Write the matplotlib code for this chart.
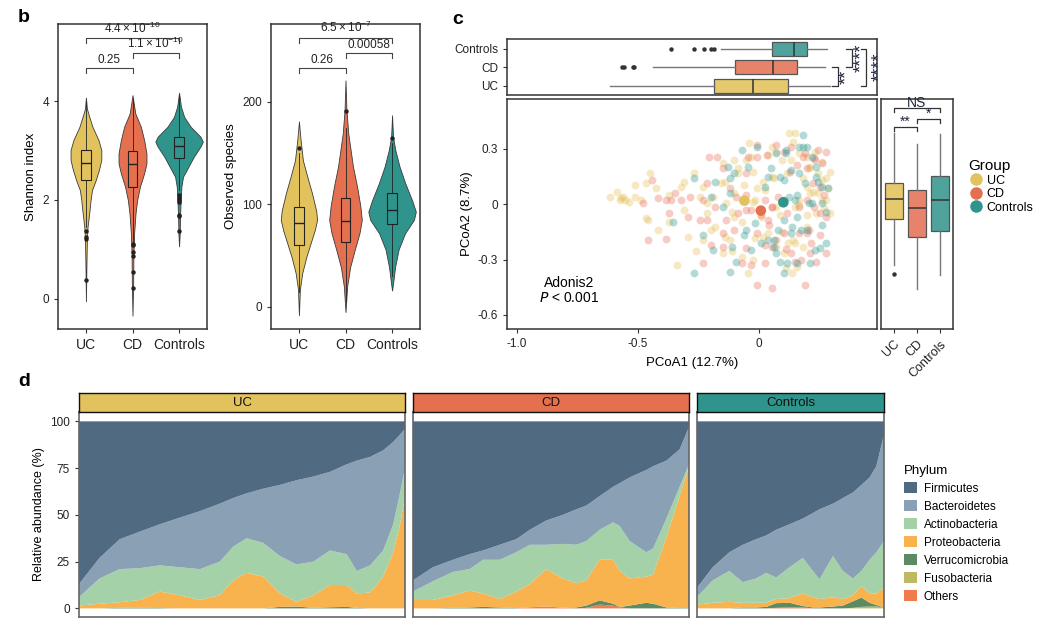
import matplotlib.pyplot as plt
import numpy as np
from matplotlib.patches import Patch
from matplotlib.lines import Line2D

plt.rcParams['font.family'] = ['Liberation Sans', 'DejaVu Sans']
plt.rcParams['mathtext.default'] = 'regular'

W, H = 1038, 628
groups = ['UC', 'CD', 'Controls']
col = {'UC': '#e2c25c', 'CD': '#e4704f', 'Controls': '#2f948c'}
box_col = {'UC': '#e6c86e', 'CD': '#e8836b', 'Controls': '#4fa39c'}
pt_col = {'UC': '#e6c15a', 'CD': '#e9735f', 'Controls': '#2f9a92'}

# ---- panel b : violin outlines (value, half width) ----
shannon_y = {
    'UC': [4.07, 3.85, 3.72, 3.48, 3.21, 3.01, 2.81, 2.61, 2.40, 2.20, 2.00, 1.73, 1.46, 1.19, 0.65, -0.05],
    'CD': [4.12, 3.75, 3.48, 3.21, 2.94, 2.74, 2.54, 2.27, 2.00, 1.73, 1.33, 0.92, 0.32, -0.34],
    'Controls': [4.17, 3.89, 3.68, 3.48, 3.28, 3.18, 3.08, 2.88, 2.67, 2.47, 2.27, 2.00, 1.66, 1.33, 1.06],
}
shannon_w = {
    'UC': [0, 0.02, 0.06, 0.14, 0.27, 0.33, 0.33, 0.28, 0.21, 0.13, 0.10, 0.07, 0.035, 0.02, 0.01, 0],
    'CD': [0, 0.06, 0.18, 0.25, 0.30, 0.30, 0.25, 0.16, 0.10, 0.065, 0.035, 0.02, 0.014, 0],
    'Controls': [0, 0.04, 0.11, 0.25, 0.46, 0.51, 0.46, 0.32, 0.20, 0.085, 0.05, 0.035, 0.02, 0.014, 0],
}
shannon_box = {'UC': (2.40, 2.75, 3.02, 1.45, 4.0),
               'CD': (2.26, 2.72, 3.00, 1.15, 4.05),
               'Controls': (2.84, 3.10, 3.27, 2.2, 4.1)}
shannon_out = {'UC': [1.38, 1.25, 1.22, 0.38],
               'CD': [1.10, 1.08, 0.94, 0.86, 0.55, 0.21],
               'Controls': [2.10, 2.05, 2.00, 1.95, 1.70, 1.67, 1.38]}

obs_y = {
    'UC': [181, 163, 143, 127, 111, 94, 85, 75, 62, 49, 33, 17, -8],
    'CD': [221, 192, 169, 153, 137, 117, 98, 85, 72, 56, 39, 20, -5],
    'Controls': [187, 166, 153, 137, 121, 104, 93, 85, 72, 56, 39, 26, 16],
}
obs_w = {
    'UC': [0, 0.035, 0.085, 0.18, 0.28, 0.37, 0.39, 0.34, 0.25, 0.16, 0.07, 0.02, 0],
    'CD': [0, 0.02, 0.06, 0.11, 0.16, 0.25, 0.32, 0.35, 0.30, 0.20, 0.10, 0.035, 0],
    'Controls': [0, 0.02, 0.07, 0.16, 0.28, 0.43, 0.51, 0.47, 0.28, 0.14, 0.065, 0.03, 0],
}
obs_box = {'UC': (60.5, 81.6, 97.2, 15, 150),
           'CD': (63, 84, 106, 5, 175),
           'Controls': (81, 94.6, 111, 30, 160)}
obs_out = {'UC': [155], 'CD': [191], 'Controls': [165]}

shannon_p = [('0.25', 1, 2, 4.67), (r'$1.1\times10^{-10}$', 2, 3, 4.98), (r'$4.4\times10^{-10}$', 1, 3, 5.28)]
obs_p = [('0.26', 1, 2, 232.8), ('0.00058', 2, 3, 247.5), (r'$6.5\times10^{-7}$', 1, 3, 262.8)]

# ---- panel c : PCoA ----
uc_x = [-0.615, -0.588, -0.568, -0.552, -0.536, -0.576, -0.560, -0.513, -0.489, -0.450, -0.513, -0.465,
        -0.426, -0.371, -0.323, -0.308, -0.457, -0.465, -0.418, -0.371, -0.339, -0.292, -0.260, -0.268,
        -0.229, -0.213, -0.189, -0.150, -0.142, -0.103, -0.087, -0.063, -0.055, -0.039, -0.032, -0.024,
        -0.008, 0.016, 0.055, 0.039, 0.071, 0.095, 0.118, 0.134, 0.166, 0.197, 0.213, 0.244, 0.260, 0.284,
        0.292, 0.123, 0.150, 0.055, -0.016, 0.008, -0.103, -0.181, -0.118, -0.071, -0.024, -0.047, 0.103,
        0.158, 0.197, 0.237, 0.260, 0.213, 0.166, 0.071, 0.039, -0.213, -0.229, -0.150, -0.197, -0.308,
        -0.244, -0.134, -0.103, 0.142, 0.181, 0.071, 0.150, 0.197, 0.244, 0.276, 0.292,
        0.142, -0.087, -0.158, -0.111, -0.142, -0.111, -0.016, 0.016, 0.095, 0.119, 0.150, 0.111, 0.135,
        0.182, 0.206, 0.230, 0.261, 0.277, 0.222, 0.269, 0.063, 0.024, -0.024, -0.071, 0.087, 0.166, 0.198]
uc_y = [0.042, 0.069, 0.033, 0.024, 0.014, 0.024, 0.042, 0.042, 0.024, 0.168, 0.105, 0.114,
        0.087, 0.051, 0.096, 0.123, -0.085, -0.076, -0.139, -0.094, -0.329, -0.179, -0.253, 0.168,
        0.096, 0.005, 0.042, 0.222, 0.123, 0.241, 0.168, 0.105, 0.241, 0.331, 0.259, 0.177,
        0.087, 0.123, 0.150, 0.268, 0.286, 0.241, 0.168, 0.241, 0.277, 0.259, 0.204, 0.168, 0.132, 0.087,
        0.177, 0.385, 0.385, 0.313, 0.024, -0.067, -0.067, -0.121, -0.193, -0.284, -0.302, -0.374, -0.266,
        -0.338, -0.121, -0.049, 0.024, 0.060, 0.024, -0.013, -0.157, -0.049, -0.193, -0.266, -0.139, -0.031,
        0.042, 0.005, 0.060, -0.193, -0.230, -0.230, -0.013, 0.096, 0.060, 0.024, -0.049,
        0.336, 0.195, 0.114, -0.040, -0.175, -0.253, -0.184, -0.175, -0.148, -0.212, -0.212, -0.347, -0.374,
        0.141, 0.195, 0.285, 0.231, 0.141, 0.069, -0.022, 0.141, 0.078, 0.014, -0.094, -0.058, -0.004, -0.058]
cd_x = [-0.481, -0.442, -0.415, -0.386, -0.363, -0.347, -0.323, -0.284, -0.457, -0.386, -0.229, -0.205,
        -0.174, -0.150, -0.118, -0.095, -0.055, -0.008, 0.032, 0.071, 0.103, 0.134, 0.181, 0.229, 0.260,
        0.252, 0.197, 0.166, 0.118, 0.055, 0.024, -0.055, -0.087, -0.134, -0.213, -0.229, -0.181, -0.150,
        -0.197, -0.055, -0.032, 0.024, 0.055, 0.071, 0.103, 0.134, 0.174, 0.213, 0.197, -0.008, 0.055,
        -0.150, -0.292, -0.371, -0.103, -0.008, 0.039, 0.229, 0.252, 0.166, 0.103, 0.244, -0.213, -0.244,
        -0.047, -0.008, -0.055, -0.031, 0.008, 0.040, 0.055, 0.079, 0.127, 0.158, 0.190, 0.230, 0.277,
        0.198, 0.222, 0.269, 0.277, 0.214, 0.253, 0.277, 0.237, 0.150, 0.190, -0.071, 0.024, 0.111, 0.206]
cd_y = [0.005, 0.132, 0.033, 0.024, 0.024, 0.060, 0.024, 0.042, -0.193, -0.190, -0.320, 0.259,
        0.259, 0.195, 0.087, 0.042, 0.168, 0.322, 0.268, 0.322, 0.286, 0.313, 0.259, 0.250, 0.222,
        0.096, 0.024, -0.013, -0.049, -0.013, 0.024, -0.031, -0.049, -0.085, -0.085, 0.024, -0.013, -0.230,
        -0.221, -0.239, -0.329, -0.320, -0.230, -0.193, -0.157, -0.266, -0.302, -0.266, -0.157, -0.438, -0.456,
        -0.157, -0.067, -0.049, -0.139, -0.157, -0.085, -0.013, -0.049, -0.157, 0.024, 0.295, 0.114, -0.085,
        0.258, 0.258, 0.051, -0.031, -0.058, -0.112, -0.013, 0.042, 0.177, 0.213, 0.276, 0.240, 0.285,
        0.195, 0.114, 0.051, -0.067, -0.212, -0.166, -0.266, -0.311, -0.311, -0.438, -0.320, -0.221, -0.242, -0.139]
ctrl_x = [-0.355, -0.268, -0.268, -0.229, -0.197, -0.189, -0.181, -0.126, -0.110, -0.095, -0.071, -0.047,
          -0.008, 0.024, 0.039, 0.071, 0.110, 0.126, 0.134, 0.166, 0.181, 0.197, 0.221, 0.237, 0.237, 0.260,
          0.284, 0.205, 0.150, 0.158, 0.174, 0.197, 0.252, 0.213, 0.158, 0.118, 0.103, 0.071, 0.039, 0.063,
          0.079, 0.103, 0.134, -0.016, -0.055, -0.118, -0.150, -0.103, 0.008, 0.189, 0.103, 0.166, 0.221, 0.260,
          -0.119, 0.111, 0.182, 0.048, 0.087, 0.158, 0.135, -0.063, -0.031, 0.063, 0.087, -0.119, 0.230,
          0.277, 0.261, 0.277, 0.245]
ctrl_y = [-0.094, 0.141, -0.374, -0.166, 0.042, -0.248, 0.123, 0.204, -0.230, -0.311, 0.295, 0.204,
          0.313, 0.096, 0.150, 0.277, 0.277, 0.042, 0.186, 0.313, 0.376, 0.313, 0.259, 0.204, 0.150, 0.096,
          0.087, 0.005, 0.024, -0.067, -0.139, -0.139, -0.239, -0.320, -0.320, -0.320, -0.374, -0.266, -0.193,
          -0.193, -0.139, -0.085, -0.157, -0.103, -0.139, 0.060, -0.013, 0.168, -0.212, 0.114, 0.132, 0.168,
          0.005, 0.005,
          0.144, 0.295, 0.312, 0.195, 0.150, 0.051, -0.121, -0.166, -0.248, -0.230, -0.311, -0.365, -0.248,
          -0.212, -0.112, -0.040, 0.123]
centroid_x = [-0.060, 0.008, 0.101]
centroid_y = [0.020, -0.034, 0.011]

# boxplot stats (q1, median, q3, whisker low, whisker high)
pc1_box = {'UC': (-0.187, -0.024, 0.122, -0.614, 0.292),
           'CD': (-0.098, 0.060, 0.157, -0.438, 0.272),
           'Controls': (0.056, 0.146, 0.198, -0.155, 0.283)}
pc1_out = {'UC': [], 'CD': [-0.566, -0.559, -0.522, -0.515],
           'Controls': [-0.365, -0.27, -0.227, -0.198, -0.186]}
pc2_box = {'UC': (-0.080, 0.030, 0.114, -0.33, 0.388),
           'CD': (-0.176, -0.022, 0.076, -0.458, 0.327),
           'Controls': (-0.143, 0.023, 0.155, -0.383, 0.380)}
pc2_out = {'UC': [-0.378], 'CD': [], 'Controls': []}

# ---- panel d : relative abundance (knots along sorted samples) ----
phyla = ['Firmicutes', 'Bacteroidetes', 'Actinobacteria', 'Proteobacteria',
         'Verrucomicrobia', 'Fusobacteria', 'Others']
phy_col = ['#506a82', '#8aa0b4', '#a5d1a9', '#f8b24e', '#5e8a63', '#bfba62', '#f07b4b']

uc_pos = [0, 0.063, 0.125, 0.186, 0.248, 0.309, 0.371, 0.432, 0.473, 0.514, 0.565,
          0.616, 0.667, 0.719, 0.770, 0.821, 0.852, 0.893, 0.933, 0.964, 0.985, 1.0]
uc_ab = {
    'Firmicutes': [87, 73, 63, 59, 55, 51.5, 48, 44, 41, 38.5, 36, 34, 31.5, 29.5, 27, 23, 21, 19, 15.5, 11, 7, 4],
    'Bacteroidetes': [7, 11, 16, 19.5, 22, 26.5, 31, 31, 26, 24, 29, 38, 45, 45.5, 42, 48, 59, 58, 53.5, 44, 31, 21],
    'Actinobacteria': [4.5, 13.5, 17.7, 17, 14, 15, 16.5, 18, 18, 18.5, 18, 20, 20, 18, 18.5, 16.5, 12, 14.5, 14, 15, 17, 15],
    'Proteobacteria': [1.5, 2.5, 3.0, 4.2, 8.8, 7, 4.5, 7, 15, 19, 17, 7.2, 2.5, 6.7, 11.9, 11.7, 7.7, 8.5, 17, 30, 45, 60],
    'Verrucomicrobia': [0, 0, 0.3, 0.3, 0.2, 0, 0, 0, 0, 0, 0, 0.8, 1.0, 0.3, 0.6, 0.8, 0.3, 0, 0, 0, 0, 0],
    'Fusobacteria': [0] * 22,
    'Others': [0] * 22,
}
cd_pos = [0, 0.072, 0.145, 0.205, 0.254, 0.314, 0.374, 0.423, 0.483, 0.543, 0.592,
          0.628, 0.676, 0.725, 0.749, 0.785, 0.845, 0.870, 0.918, 0.966, 1.0]
cd_ab = {
    'Firmicutes': [85, 78, 74, 71, 69, 66, 63, 58, 53, 50, 47, 45, 40, 35, 33, 30, 26, 24, 21, 15, 3],
    'Bacteroidetes': [6, 7.5, 6.5, 8, 5, 8, 7, 8, 13, 15.5, 19, 19, 18, 19, 23, 34, 44, 44, 31, 20, 20],
    'Actinobacteria': [4.5, 10, 12.5, 11.5, 18, 21, 21, 21, 13, 18.5, 20.5, 21, 16, 20, 24, 20, 13, 14, 10, 5, 1],
    'Proteobacteria': [4.5, 4.5, 6.7, 9, 7.2, 4.5, 8.8, 12.4, 20, 15.6, 13, 13.5, 21.7, 23.5, 19.3, 14.5, 14, 15.5, 37.5, 59.8, 75.8],
    'Verrucomicrobia': [0, 0, 0.3, 0.5, 0.8, 0.5, 0.2, 0, 0, 0, 0.5, 1.2, 2.3, 1.0, 0.2, 1.5, 3.0, 2.5, 0.5, 0.2, 0.2],
    'Fusobacteria': [0] * 21,
    'Others': [0, 0, 0, 0, 0, 0, 0, 0.6, 1.0, 0.4, 0, 0.3, 2.0, 1.5, 0.5, 0, 0, 0, 0, 0, 0],
}
ctrl_pos = [0, 0.084, 0.173, 0.245, 0.316, 0.370, 0.423, 0.495, 0.566, 0.620, 0.655,
            0.727, 0.780, 0.834, 0.879, 0.923, 0.959, 1.0]
ctrl_ab = {
    'Firmicutes': [89, 78, 70, 66, 63, 61, 58, 55, 52, 49, 47, 44, 41, 38, 34, 30, 24, 7],
    'Bacteroidetes': [5, 7, 10, 20, 21, 20, 25.5, 23, 21, 31, 37.5, 28, 39, 46, 46, 44, 46, 57],
    'Actinobacteria': [4, 12, 16.5, 11, 13, 16, 11.5, 16.5, 19, 14, 10.5, 22, 15, 9, 8, 18, 22, 25],
    'Proteobacteria': [2, 3, 3.5, 2.5, 2.5, 2.2, 2.2, 2.5, 6.7, 5.5, 4.5, 5, 3.5, 3.2, 6.2, 5, 6.2, 10.5],
    'Verrucomicrobia': [0, 0, 0, 0.5, 0.5, 0.8, 2.5, 2.5, 0.8, 0.5, 0.5, 1.0, 1.5, 3.5, 5.0, 2.0, 0.8, 0],
    'Fusobacteria': [0, 0, 0, 0, 0, 0, 0, 0, 0, 0, 0, 0, 0, 0.3, 0.8, 1.0, 1.0, 0.5],
    'Others': [0, 0, 0, 0, 0, 0, 0.3, 0.5, 0.5, 0, 0, 0, 0, 0, 0, 0, 0, 0],
}

fig = plt.figure(figsize=(W / 100, H / 100), dpi=100)


def add_ax(l, t, r, b):
    return fig.add_axes([l / W, 1 - b / H, (r - l) / W, (b - t) / H])


def frame(ax, c='#333333', lw=1.1):
    for s in ax.spines.values():
        s.set_color(c)
        s.set_linewidth(lw)
    ax.tick_params(color='#333333', labelcolor='#222222', length=3, width=0.8)


def stats(box, out):
    res = []
    for g in groups:
        q1, med, q3, lo, hi = box[g]
        res.append(dict(q1=q1, med=med, q3=q3, whislo=lo, whishi=hi, fliers=out[g]))
    return res


def violin(ax, ys, ws, box, outs, ylim, yticks, ylabel, pvals, dtick):
    for i, g in enumerate(groups, 1):
        y = np.array(ys[g])
        w = np.array(ws[g])
        ax.fill_betweenx(y, i - w, i + w, facecolor=col[g], edgecolor='#3a3a3a', lw=0.6, zorder=1)
    bp = ax.bxp(stats(box, outs), positions=[1, 2, 3], widths=0.2, patch_artist=True,
                showcaps=False,
                boxprops=dict(edgecolor='#222222', lw=0.8),
                medianprops=dict(color='#222222', lw=1.0),
                whiskerprops=dict(color='#222222', lw=0.6),
                flierprops=dict(marker='o', ms=2.2, mfc='#222222', mec='#222222'))
    for patch, g in zip(bp['boxes'], groups):
        patch.set_facecolor(col[g])
        patch.set_zorder(2)
    for txt, a, b, y in pvals:
        ax.plot([a, a, b, b], [y - dtick, y, y, y - dtick], color='#444444', lw=0.8)
        ax.text((a + b) / 2, y + dtick * 0.4, txt, ha='center', va='bottom', fontsize=8.5, color='#222222')
    ax.set_xlim(0.4, 3.6)
    ax.set_ylim(*ylim)
    ax.set_yticks(yticks)
    ax.set_xticks([1, 2, 3])
    ax.set_xticklabels(groups, fontsize=10)
    ax.tick_params(axis='y', labelsize=8.5)
    ax.set_ylabel(ylabel, fontsize=9.5, labelpad=4)
    frame(ax)


ax_sh = add_ax(58, 24, 207, 329)
violin(ax_sh, shannon_y, shannon_w, shannon_box, shannon_out, (-0.61, 5.56), [0, 2, 4],
       'Shannon index', shannon_p, 0.1)
ax_ob = add_ax(271, 24, 420, 329)
violin(ax_ob, obs_y, obs_w, obs_box, obs_out, (-21.5, 276), [0, 100, 200],
       'Observed species', obs_p, 5)

# ---- panel c ----
xl = (-1.041, 0.488)
yl = (-0.676, 0.571)
ax_sc = add_ax(507, 99, 877, 329)
for xs, ys, g in [(uc_x, uc_y, 'UC'), (cd_x, cd_y, 'CD'), (ctrl_x, ctrl_y, 'Controls')]:
    ax_sc.scatter(xs, ys, s=32, color=pt_col[g], alpha=0.36, lw=0)
ax_sc.scatter(centroid_x, centroid_y, s=58, color=[col[g] for g in groups], lw=0, zorder=3)
ax_sc.set_xlim(*xl)
ax_sc.set_ylim(*yl)
ax_sc.set_xticks([-1.0, -0.5, 0])
ax_sc.set_xticklabels(['-1.0', '-0.5', '0'])
ax_sc.set_yticks([-0.6, -0.3, 0, 0.3])
ax_sc.set_yticklabels(['-0.6', '-0.3', '0', '0.3'])
ax_sc.tick_params(labelsize=8.5)
ax_sc.set_xlabel('PCoA1 (12.7%)', fontsize=9.5, labelpad=5)
ax_sc.set_ylabel('PCoA2 (8.7%)', fontsize=9.5, labelpad=3)
ax_sc.text(-0.783, -0.427, 'Adonis2', ha='center', va='center', fontsize=10)
ax_sc.text(-0.783, -0.508, r'$\it{P}$ < 0.001', ha='center', va='center', fontsize=10)
frame(ax_sc)

ax_top = add_ax(507, 39, 877, 95)
bp = ax_top.bxp(stats(pc1_box, pc1_out), positions=[1, 2, 3], widths=0.74, patch_artist=True,
                orientation='horizontal', showcaps=False,
                boxprops=dict(edgecolor='#555555', lw=0.9),
                medianprops=dict(color='#333333', lw=1.1),
                whiskerprops=dict(color='#777777', lw=1.0),
                flierprops=dict(marker='o', ms=2.2, mfc='#333333', mec='#333333'))
for patch, g in zip(bp['boxes'], groups):
    patch.set_facecolor(box_col[g])
ax_top.set_xlim(*xl)
ax_top.set_ylim(0.5, 3.52)
ax_top.set_yticks([1, 2, 3])
ax_top.set_yticklabels(groups, fontsize=8.5)
ax_top.set_xticks([])
frame(ax_top)
star_c = '#1f2540'
for x, tick, y0, y1, txt, tx, ty in [(0.326, 0.302, 1, 2, '**', 0.364, 1.5),
                                     (0.384, 0.361, 2, 3, '****', 0.426, 2.5),
                                     (0.444, 0.421, 1, 3, '****', 0.498, 2.0)]:
    ax_top.plot([tick, x, x, tick], [y0, y0, y1, y1], color='#333333', lw=0.9)
    ax_top.text(tx, ty, txt, rotation=90, ha='center', va='center', fontsize=13, color=star_c)

ax_rb = add_ax(881, 99, 953, 329)
bp = ax_rb.bxp(stats(pc2_box, pc2_out), positions=[1, 2, 3], widths=0.78, patch_artist=True,
               showcaps=False,
               boxprops=dict(edgecolor='#555555', lw=0.9),
               medianprops=dict(color='#333333', lw=1.1),
               whiskerprops=dict(color='#777777', lw=1.0),
               flierprops=dict(marker='o', ms=2.2, mfc='#333333', mec='#333333'))
for patch, g in zip(bp['boxes'], groups):
    patch.set_facecolor(box_col[g])
ax_rb.set_xlim(0.46, 3.54)
ax_rb.set_ylim(*yl)
ax_rb.set_yticks([])
ax_rb.set_xticks([1, 2, 3])
ax_rb.set_xticklabels(groups, rotation=45, ha='right', rotation_mode='anchor', fontsize=9)
frame(ax_rb)
for a, b, y, txt in [(1, 3, 0.521, 'NS'), (1, 2, 0.421, '**'), (2, 3, 0.463, '*')]:
    ax_rb.plot([a, a, b, b], [y - 0.022, y, y, y - 0.022], color='#333333', lw=0.9)
    ax_rb.text((a + b) / 2, y - 0.012, txt, ha='center', va='bottom', fontsize=10, color=star_c)

grp_handles = [Line2D([], [], marker='o', ls='', ms=8, color=col[g]) for g in groups]
fig.legend(grp_handles, groups, title='Group', loc='upper left', bbox_to_anchor=(963 / W, 1 - 154 / H),
           frameon=False, fontsize=9, title_fontsize=11, handletextpad=0.3, labelspacing=0.12,
           borderaxespad=0, handlelength=1.2, alignment='left')

# ---- panel d ----
facets = [('UC', uc_pos, uc_ab, 79, 405), ('CD', cd_pos, cd_ab, 413, 689), ('Controls', ctrl_pos, ctrl_ab, 697, 884)]
for k, (g, pos, ab, l, r) in enumerate(facets):
    ax = add_ax(l, 412, r, 617)
    layers = [ab[p] for p in phyla[::-1]]
    ax.stackplot(pos, *layers, colors=phy_col[::-1], lw=0)
    ax.set_xlim(0, 1)
    ax.set_ylim(-4.6, 105)
    ax.set_xticks([])
    for s in ax.spines.values():
        s.set_color('#666666')
        s.set_linewidth(1.2)
    if k == 0:
        ax.set_yticks([0, 25, 50, 75, 100])
        ax.tick_params(axis='y', labelsize=8.5, length=3, color='#333333', labelcolor='#222222')
        ax.set_ylabel('Relative abundance (%)', fontsize=9, labelpad=4)
    else:
        ax.set_yticks([])
    st = add_ax(l, 393, r, 412)
    st.set_facecolor(col[g])
    st.set_xticks([])
    st.set_yticks([])
    for s in st.spines.values():
        s.set_color('#111111')
        s.set_linewidth(1.0)
    st.text(0.5, 0.5, g, ha='center', va='center', fontsize=9.5, color='#111111', transform=st.transAxes)

phy_handles = [Patch(facecolor=c, edgecolor='none') for c in phy_col]
fig.legend(phy_handles, phyla, title='Phylum', loc='upper left', bbox_to_anchor=(899 / W, 1 - 460 / H),
           frameon=False, fontsize=8.5, title_fontsize=9.5, handlelength=1.1, handleheight=1.1,
           handletextpad=0.6, labelspacing=0.45, borderaxespad=0, alignment='left')

fig.text(18 / W, 1 - 18 / H, 'b', fontsize=14, fontweight='bold', va='center')
fig.text(452 / W, 1 - 20 / H, 'c', fontsize=14, fontweight='bold', va='center')
fig.text(18 / W, 1 - 382 / H, 'd', fontsize=14, fontweight='bold', va='center')

fig.savefig('out.png', dpi=100)
